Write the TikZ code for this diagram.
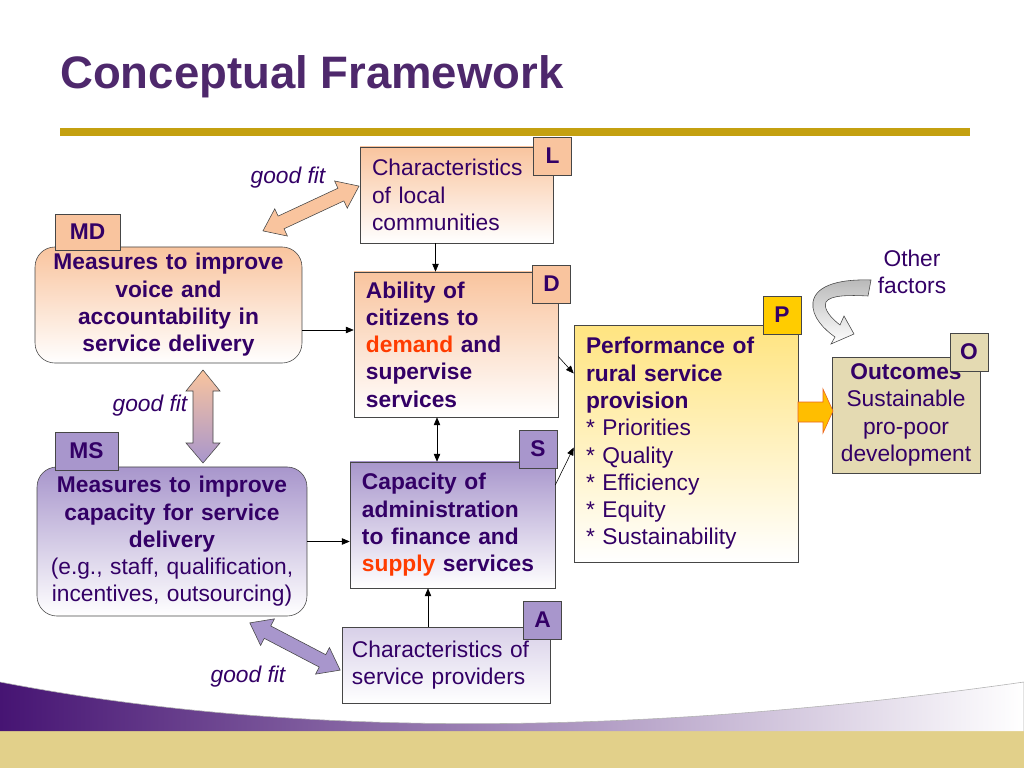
\documentclass[tikz,border=0pt]{standalone}
\usepackage{fontspec}
\setmainfont{Liberation Sans}
\usetikzlibrary{arrows.meta,calc}
\definecolor{inkpurple}{RGB}{51,0,102}
\definecolor{titlepurple}{RGB}{78,40,108}
\definecolor{bargold}{RGB}{196,160,16}
\definecolor{peach}{RGB}{249,196,158}
\definecolor{lavender}{RGB}{168,150,204}
\definecolor{paleyellow}{RGB}{255,228,128}
\definecolor{tagyellow}{RGB}{255,204,0}
\definecolor{outcometan}{RGB}{228,218,178}
\definecolor{hired}{RGB}{255,60,0}
\definecolor{boxline}{RGB}{70,70,70}
\definecolor{sandband}{RGB}{226,208,138}
\definecolor{swooshpurple}{RGB}{70,20,115}
\definecolor{amber}{RGB}{255,190,0}
\definecolor{amberline}{RGB}{235,100,30}
\newcommand{\bodyfont}{\fontsize{16}{19.2}\selectfont}
% double block arrow: #1 style, #2 centre, #3 angle, #4 half length
\newcommand{\fitarrow}[4]{%
  \path[#1,shift={(#2)},rotate=#3] (-#4,0) -- (-#4+20,15) -- (-#4+20,7) -- (#4-20,7)
    -- (#4-20,15) -- (#4,0) -- (#4-20,-15) -- (#4-20,-7) -- (-#4+20,-7) -- (-#4+20,-15) -- cycle;}
\begin{document}
\begin{tikzpicture}[x=0.703125pt,y=-0.703125pt,font=\bodyfont,text=inkpurple,
 box/.style={draw=boxline,thin,align=left,inner ysep=2pt},
 tag/.style={draw=boxline,thin,font=\bodyfont\bfseries,minimum width=27pt,minimum height=27pt,inner sep=1pt},
 arr/.style={-{Triangle[length=5.5pt,width=4.5pt]},thin,black},
 both/.style={{Triangle[length=5.5pt,width=4.5pt]}-{Triangle[length=5.5pt,width=4.5pt]},thin,black},
 fitlabel/.style={font=\bodyfont\itshape}]
\useasboundingbox (0,0) rectangle (1024,768);
% footer
\fill[sandband] (0,730) rectangle (1024,768);
\shade[left color=swooshpurple,right color=white,middle color=swooshpurple!50] (0,682) .. controls (300,740) and (650,735) .. (1024,682) -- (1024,731) -- (0,731) -- cycle;
\draw[gray!60,thin] (0,682) .. controls (300,740) and (650,735) .. (1024,682) -- (1024,731);
% title
\node[anchor=base west,text=titlepurple,font=\fontsize{32}{38}\selectfont\bfseries,inner sep=0pt] (title) at (60,89) {Conceptual Framework};
\fill[bargold] (60,128) rectangle (970,136);
% boxes
\node[box,top color=peach,bottom color=white,minimum width=135.7pt,minimum height=67.5pt,text width=118.8pt,inner xsep=8.44pt] (L) at (456.5,195) {Characteristics\\of local\\communities};
\node[box,font=\bodyfont\bfseries,top color=peach,bottom color=white,minimum width=143.4pt,minimum height=102pt,text width=126.6pt,inner xsep=8.4pt] (D) at (456,344.5) {Ability of\\citizens to\\\textcolor{hired}{demand} and\\supervise\\services};
\node[box,top color=paleyellow,bottom color=white,minimum width=157.5pt,minimum height=166.6pt,text width=140.6pt,inner xsep=8.44pt] (P) at (686,443.5) {\textbf{Performance of}\\\textbf{rural service}\\\textbf{provision}\\{*} Priorities\\{*} Quality\\{*} Efficiency\\{*} Equity\\{*} Sustainability};
\node[box,align=center,fill=outcometan,minimum width=104.1pt,minimum height=81.6pt,text width=98pt,inner xsep=3pt] (O) at (906,415) {\textbf{Outcomes}\\Sustainable\\pro-poor\\development};
\node[box,font=\bodyfont\bfseries,top color=lavender,bottom color=white,minimum width=144.1pt,minimum height=88.6pt,text width=127.3pt,inner xsep=8.4pt] (S) at (452.5,525) {Capacity of\\administration\\to finance and\\\textcolor{hired}{supply} services};
\node[box,top color=lavender!45,bottom color=white,minimum width=146.25pt,minimum height=53.4pt,text width=132.2pt,inner xsep=7pt] (A) at (446,665) {Characteristics of\\service providers};
\node[box,align=center,font=\bodyfont\bfseries,rounded corners=14pt,top color=peach,bottom color=white,minimum width=187.7pt,minimum height=81.6pt,text width=180pt,inner xsep=3.8pt] (MD) at (168.5,305) {Measures to improve\\voice and\\accountability in\\service delivery};
\node[box,align=center,rounded corners=14pt,top color=lavender,bottom color=white,minimum width=189.8pt,minimum height=104.8pt,text width=182pt,inner xsep=3.9pt] (MS) at (172,541.5) {\textbf{Measures to improve}\\\textbf{capacity for service}\\\textbf{delivery}\\(e.g., staff, qualification,\\incentives, outsourcing)};
% tags
\node[tag,fill=peach] (tagL) at (552.5,156) {L};
\node[tag,fill=peach] (tagD) at (551.5,284) {D};
\node[tag,fill=tagyellow] (tagP) at (782,315) {P};
\node[tag,fill=outcometan] (tagO) at (969,352) {O};
\node[tag,fill=lavender] (tagS) at (538,449) {S};
\node[tag,fill=lavender] (tagA) at (542.5,620) {A};
\node[tag,fill=peach,minimum width=45.7pt,minimum height=25.3pt] (tagMD) at (87.5,232) {MD};
\node[tag,fill=lavender,minimum width=44.3pt,minimum height=26.7pt] (tagMS) at (86.5,451) {MS};
% good fit
\fitarrow{draw=boxline,thin,fill=peach}{311,208.5}{25}{53}
\path[draw=boxline,thin,top color=peach,bottom color=lavender] (203,370) -- (220,391) -- (213,391) -- (213,443) -- (220,443) -- (203,463) -- (186,443) -- (193,443) -- (193,391) -- (186,391) -- cycle;
\fitarrow{draw=boxline,thin,fill=lavender}{295,646.5}{-27.6}{51}
\node[fitlabel] (fit1) at (288,178) {good fit};
\node[fitlabel] (fit2) at (150,406) {good fit};
\node[fitlabel] (fit3) at (248,677) {good fit};
% links
\coordinate (lout) at ($(L.south)+(-21,0)$);
\coordinate (mdout) at ($(MD.east)+(0,25)$);
\coordinate (dout) at ($(D.south)+(-19,0)$);
\coordinate (aout) at ($(A.north)+(-18,0)$);
\draw[arr] (lout) -- (lout |- D.north);
\draw[arr] (mdout) -- (mdout -| D.west);
\draw[both] (dout) -- (dout |- S.north);
\draw[arr] (MS.east) -- (MS.east -| S.west);
\draw[arr] (aout) -- (aout |- S.south);
\draw[arr] ($(D.east)+(0,12)$) -- ($(P.west)+(0,-70)$);
\draw[arr] ($(S.east)+(0,-40)$) -- ($(P.west)+(0,4)$);
% outcome arrow
\path[draw=amberline,thin,fill=amber] (798,402) -- (823,402) -- (823,389) -- (833,411) -- (823,433) -- (823,422) -- (798,422) -- cycle;
% other factors
\node[align=center] (other) at (912,272) {Other\\factors};
\path[draw=boxline,thin,top color=gray!55,bottom color=white] (871,280) .. controls (843,279) and (816,284) .. (813,302) .. controls (811,317) and (825,330) .. (835,337) -- (831,344) -- (854,334) -- (844,316) -- (840,325) .. controls (831,318) and (823,309) .. (826,302) .. controls (830,295) and (850,295) .. (868,296) -- cycle;
\end{tikzpicture}
\end{document}
